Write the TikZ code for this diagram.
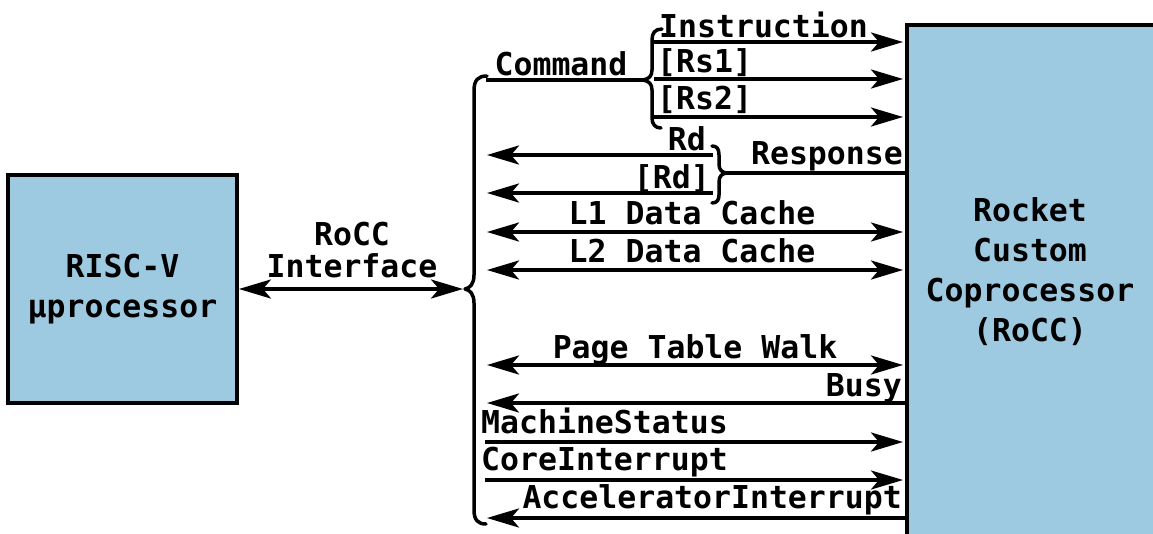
\documentclass[tikz,border=0pt]{standalone}
\usepackage{fontspec}
\setmainfont{DejaVu Sans Mono}
\usetikzlibrary{arrows.meta}
\definecolor{boxblue}{RGB}{158,202,225}
\tikzset{
  bigtip/.tip={Stealth[length=32pt,width=19pt,inset=8pt]},
  wire/.style={line width=3.7pt},
  fwd/.style={wire,-{bigtip},shorten >=2pt},
  back/.style={wire,{bigtip}-},
  both/.style={wire,{bigtip}-{bigtip},shorten >=2pt},
  brc/.style={line width=3.5pt,line cap=round,line join=round},
  txt/.style={font=\fontsize{31.5}{40}\selectfont\bfseries,inner sep=0pt},
  box/.style={draw,line width=3.8pt,fill=boxblue},
}
\begin{document}
\begin{tikzpicture}[x=1pt,y=-1pt]
\useasboundingbox (0,0) rectangle (1153,533);

% the two blocks
\node[box,txt,align=center,minimum width=229pt,minimum height=228pt] (cpu) at (122.5,289) {RISC-V\\µprocessor};
\node[box,minimum width=270pt,minimum height=540pt,anchor=north west] (rocc) at (905,23) {};
\node[txt,align=center] (rocclbl) at (1030,272) {Rocket\\Custom\\Coprocessor\\(RoCC)};

% interface link and the main brace
\coordinate (bt) at (465,289);
\draw[both] (cpu.east) -- (cpu.east -| bt);
\node[txt,align=center,font=\fontsize{31.5}{32}\selectfont\bfseries] (ifc) at (352,250) {RoCC\\Interface};
\draw[brc] (487,76) .. controls (478,76) and (474,80) .. (474,91) -- (474,275)
  .. controls (474,284) and (470,288) .. (bt)
  .. controls (470,290) and (474,294) .. (474,303) -- (474,510)
  .. controls (474,520) and (478,524) .. (486,524);
\coordinate (lbus) at (487,289);

% command group
\coordinate (cmdL) at (486,80);
\coordinate (cmdR) at (643,80);
\draw[wire] (cmdL) -- (cmdR);
\node[txt,anchor=base] (cmdlbl) at (561,75) {Command};
\draw[brc] (662,29) .. controls (655,29) and (652,33) .. (652,40) -- (652,70)
  .. controls (652,76) and (649,79) .. (cmdR)
  .. controls (649,81) and (652,84) .. (652,90) -- (652,118)
  .. controls (652,124) and (655,128) .. (661,128);
\coordinate (ins) at (654,42);
\coordinate (rs1) at (654,79);
\coordinate (rs2) at (654,117);
\draw[fwd] (ins) -- (ins -| rocc.west);
\draw[fwd] (rs1) -- (rs1 -| rocc.west);
\draw[fwd] (rs2) -- (rs2 -| rocc.west);
\node[txt,anchor=base west] (inslbl) at (659,37) {Instruction};
\node[txt,anchor=base west] (rs1lbl) at (657,72) {[Rs1]};
\node[txt,anchor=base west] (rs2lbl) at (657,109) {[Rs2]};

% response group
\coordinate (rd1) at (713,155);
\coordinate (rd2) at (713,193);
\coordinate (resp) at (728,173);
\draw[back] (lbus |- rd1) -- (rd1);
\draw[back] (lbus |- rd2) -- (rd2);
\draw[brc] (712,146) .. controls (717,146) and (719,149) .. (719,155) -- (719,164)
  .. controls (719,170) and (722,173) .. (resp)
  .. controls (722,173) and (719,176) .. (719,182) -- (719,195)
  .. controls (719,200) and (717,203) .. (712,203);
\draw[wire] (resp) -- (resp -| rocc.west);
\node[txt,anchor=base east] (rdlbl) at (706,150) {Rd};
\node[txt,anchor=base east] (rd2lbl) at (710,188) {[Rd]};
\node[txt,anchor=base east] (resplbl) at (903,164) {Response};

% memory ports
\coordinate (l1) at (487,232);
\coordinate (l2) at (487,270);
\coordinate (ptw) at (487,365);
\draw[both] (l1) -- (l1 -| rocc.west);
\draw[both] (l2) -- (l2 -| rocc.west);
\draw[both] (ptw) -- (ptw -| rocc.west);
\node[txt,anchor=base] (l1lbl) at (692,224) {L1 Data Cache};
\node[txt,anchor=base] (l2lbl) at (692,262) {L2 Data Cache};
\node[txt,anchor=base] (ptwlbl) at (695,358) {Page Table Walk};

% status and interrupts
\coordinate (busy) at (487,403);
\coordinate (ms) at (485,442);
\coordinate (ci) at (485,480);
\coordinate (ai) at (487,518);
\draw[back] (busy) -- (busy -| rocc.west);
\draw[fwd] (ms) -- (ms -| rocc.west);
\draw[fwd] (ci) -- (ci -| rocc.west);
\draw[back] (ai) -- (ai -| rocc.west);
\node[txt,anchor=base east] (busylbl) at (902,396) {Busy};
\node[txt,anchor=base west] (mslbl) at (481,433) {MachineStatus};
\node[txt,anchor=base west] (cilbl) at (481,470) {CoreInterrupt};
\node[txt,anchor=base east] (ailbl) at (902,508) {AcceleratorInterrupt};
\end{tikzpicture}
\end{document}
